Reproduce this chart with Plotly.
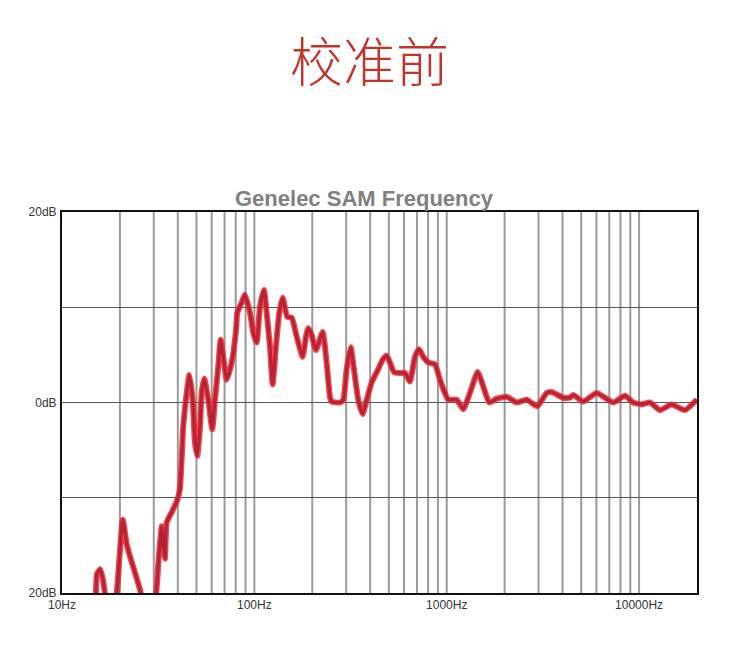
import plotly.graph_objects as go

# Frequency response (Hz, dB)
freq_hz = [15.0, 15.2, 15.8, 16.3, 16.9, 18.0, 19.1, 20.7, 21.7, 22.6, 23.5, 25.4, 26.1,
           28.3, 30.6, 31.7, 33.0, 33.6, 34.3, 35.0, 37.2, 39.5, 41.0, 42.7, 44.5, 45.9,
           47.8, 49.1, 50.5, 52.2, 53.2, 54.9, 57.6, 60.4, 62.4, 64.9, 66.8, 69.5, 71.8,
           76.2, 80.3, 81.5, 85.9, 89.4, 94.9, 98.7, 102.8, 106.9, 112.2, 115.9, 120.5,
           124.5, 129.5, 134.7, 140.3, 148.3, 156.3, 166.0, 178.2, 185.4, 190.6, 198.5,
           209.0, 226.5, 237.5, 247.2, 252.2, 278.6, 289.8, 301.8, 316.6, 329.4, 346.7,
           365.6, 383.5, 407.2, 440.5, 464.4, 487.2, 506.8, 531.6, 571.3, 606.4, 643.7,
           683.4, 717.0, 754.8, 801.3, 868.4, 921.9, 978.6, 1018, 1126, 1218, 1320, 1447,
           1548, 1663, 1817, 2048, 2308, 2602, 2954, 3305, 3510, 4032, 4368, 4545, 5122,
           6013, 7335, 8438, 9318, 10300, 11380, 12830, 14750, 17300, 19970]
level_db = [-20.6, -18.0, -17.5, -18.5, -20.6, -22.2, -20.6, -12.3, -14.9, -16.2, -17.3,
            -19.6, -20.6, -21.9, -20.6, -16.8, -13.0, -15.1, -16.4, -12.6, -11.5, -10.4,
            -9.1, -2.5, 1.0, 2.9, 0.3, -4.2, -5.6, -2.5, 1.0, 2.5, 0.3, -2.8, 0.3, 3.8, 6.6,
            4.2, 2.4, 4.2, 7.6, 9.4, 10.5, 11.3, 9.4, 7.3, 6.3, 10.0, 11.8, 9.4, 5.9, 1.9,
            5.9, 9.4, 11.0, 9.0, 8.9, 6.9, 4.8, 6.9, 7.8, 7.1, 5.5, 7.4, 4.2, 0.6, 0.1, 0.0,
            0.3, 3.5, 5.8, 3.5, 0.3, -1.2, 0.3, 2.1, 3.5, 4.5, 4.9, 4.2, 3.2, 3.1, 3.1, 2.2,
            4.8, 5.6, 4.8, 4.2, 4.0, 2.4, 1.0, 0.3, 0.3, -0.7, 1.0, 3.2, 1.7, 0.0, 0.4, 0.6,
            0.0, 0.3, -0.4, 1.0, 1.1, 0.5, 0.5, 0.8, 0.1, 1.0, 0.0, 0.7, 0.0, -0.2, 0.0,
            -0.8, -0.2, -0.8, 0.3]

x_grid = [20, 30, 40, 50, 60, 70, 80, 90, 100, 200, 300, 400, 500, 600, 700, 800, 900,
          1000, 2000, 3000, 4000, 5000, 6000, 7000, 8000, 9000, 10000]
x_tick_vals = [10, 100, 1000, 10000]
x_tick_text = ["10Hz", "100Hz", "1000Hz", "10000Hz"]
y_tick_vals = [-20, -10, 0, 10, 20]
y_tick_text = ["20dB", "", "0dB", "", "20dB"]

title_text = "校准前"
subtitle_text = "Genelec SAM Frequency"

fig = go.Figure()
fig.add_trace(go.Scatter(x=freq_hz, y=level_db, mode="lines",
                         line=dict(color="rgba(235,40,50,0.85)", width=6,
                                   shape="spline", smoothing=0.5),
                         hoverinfo="skip", showlegend=False))
fig.add_trace(go.Scatter(x=freq_hz, y=level_db, mode="lines",
                         line=dict(color="#b82233", width=3.2,
                                   shape="spline", smoothing=0.5),
                         showlegend=False))

tick_font = dict(family="Liberation Sans Narrow, Liberation Sans, Arial", size=12, color="#333333")

fig.update_xaxes(type="log", range=[1, 4.30103],
                 tickmode="array", tickvals=x_tick_vals, ticktext=x_tick_text,
                 showgrid=False, showline=True, mirror=True, linecolor="#111111", linewidth=2,
                 ticks="", tickfont=tick_font, zeroline=False)
fig.update_yaxes(range=[-20, 20], tickmode="array", tickvals=y_tick_vals, ticktext=y_tick_text,
                 showgrid=True, gridcolor="#555555", gridwidth=1.3,
                 showline=True, mirror=True, linecolor="#111111", linewidth=2,
                 ticks="", tickfont=tick_font, zeroline=False, ticklabelstandoff=1)

# vertical grid lines (log decades)
for g in x_grid:
    fig.add_shape(type="line", xref="x", yref="paper", x0=g, x1=g, y0=0, y1=1,
                  line=dict(color="#9a9a9a", width=2), layer="below")

fig.add_annotation(text=title_text, xref="paper", yref="paper", x=0.485, y=1.0,
                   yshift=153, xanchor="center", yanchor="middle", showarrow=False,
                   font=dict(family="Noto Sans CJK SC", size=53, color="#c0342c", weight=300))
fig.add_annotation(text="<b>" + subtitle_text + "</b>", xref="paper", yref="paper",
                   x=0.477, y=1.0, yshift=14, xanchor="center", yanchor="middle",
                   showarrow=False,
                   font=dict(family="Liberation Sans, Arial", size=22, color="#808080"))

fig.update_layout(width=733, height=641, margin=dict(l=54, r=44, t=204, b=56),
                  paper_bgcolor="white", plot_bgcolor="white")

fig.write_html("out.html")
